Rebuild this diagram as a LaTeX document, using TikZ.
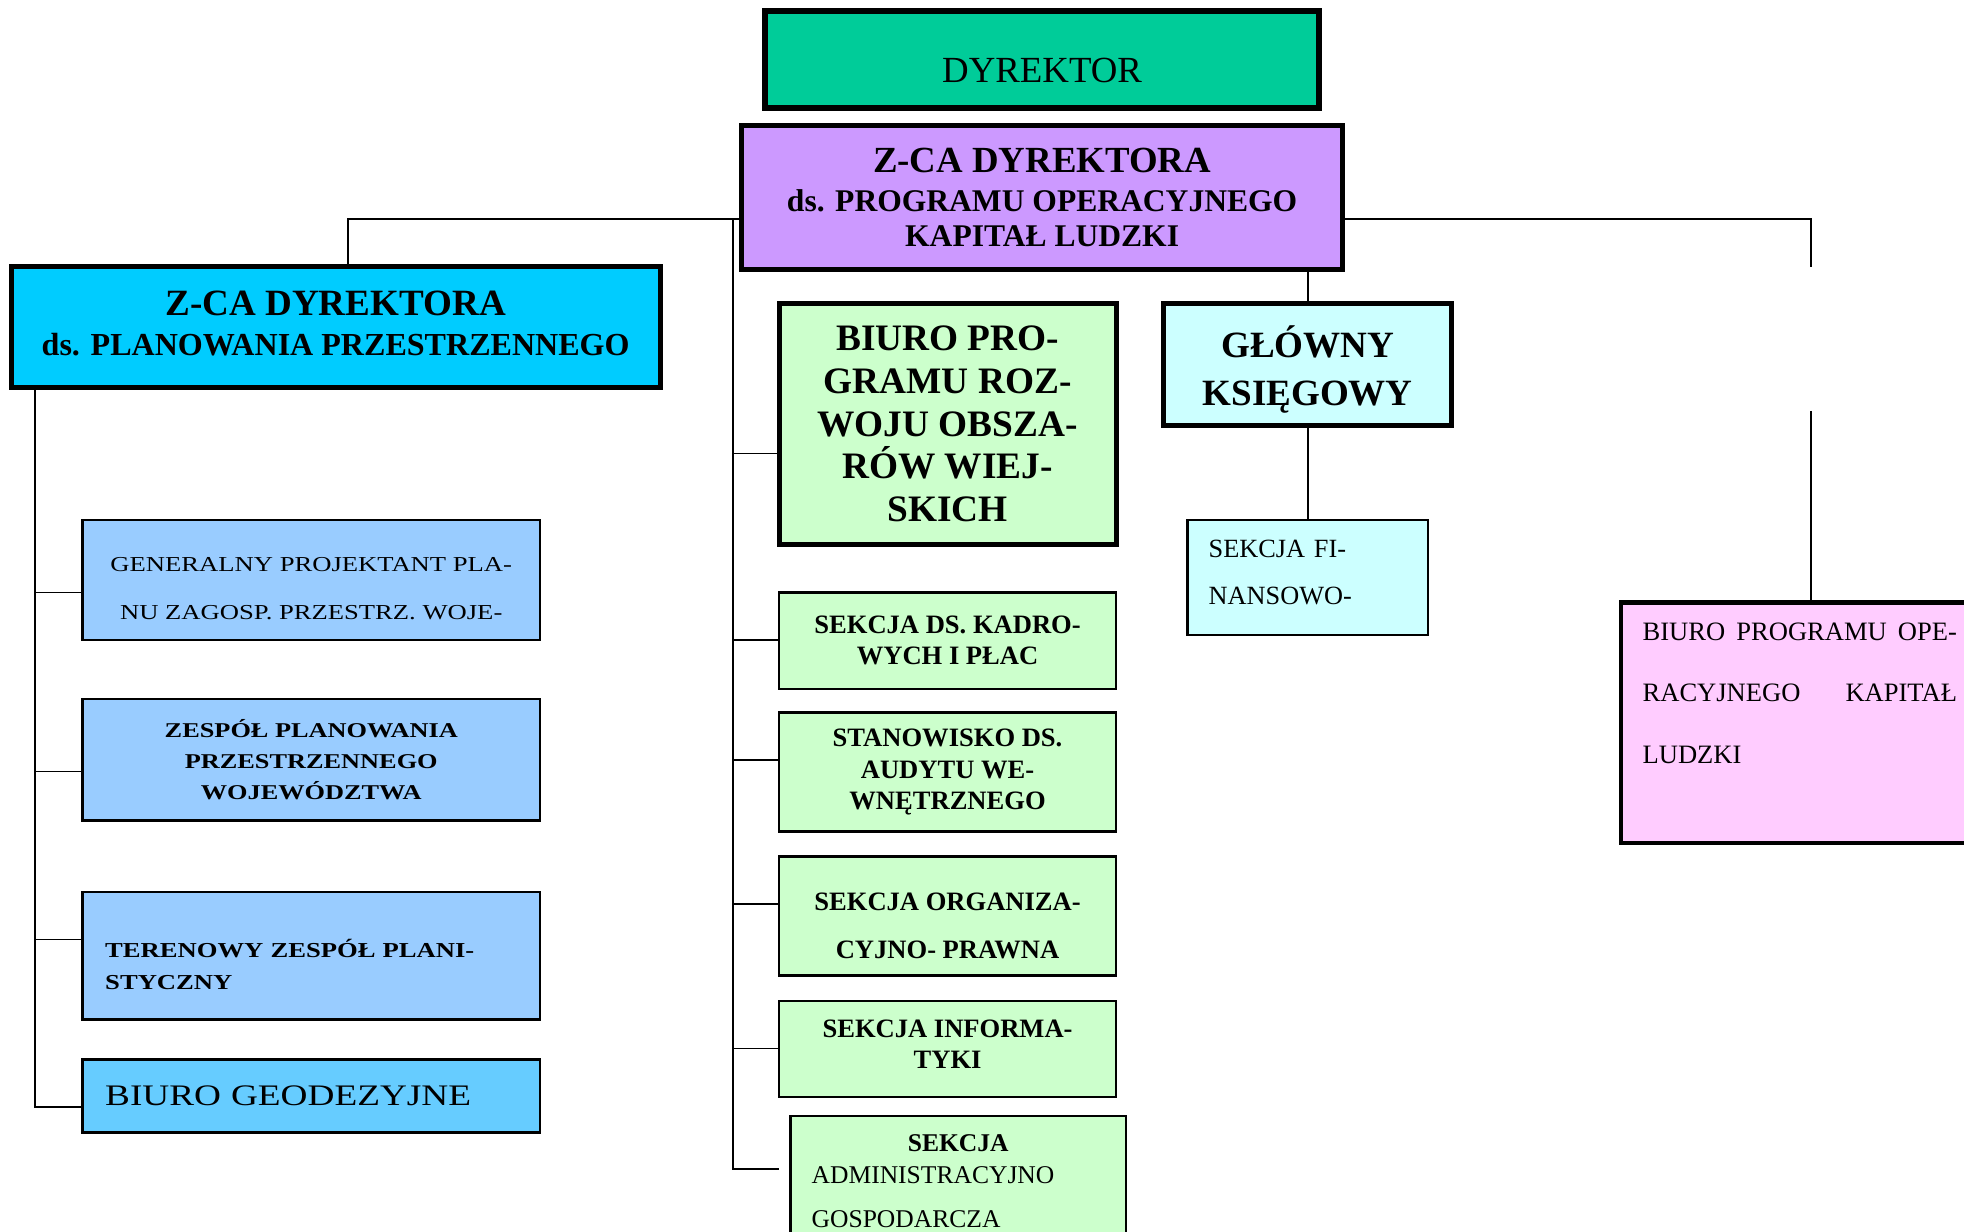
\documentclass[tikz,border=0pt]{standalone}
\usepackage{fontspec}
\setmainfont{Liberation Serif}
\newfontfamily\widefont[FakeStretch=1.25]{Liberation Serif}
\definecolor{cTeal}{HTML}{00CC99}
\definecolor{cPurple}{HTML}{CC99FF}
\definecolor{cCyan}{HTML}{00CCFF}
\definecolor{cGreen}{HTML}{CCFFCC}
\definecolor{cLCyan}{HTML}{CCFFFF}
\definecolor{cPink}{HTML}{FFCCFF}
\definecolor{cLBlue}{HTML}{99CCFF}
\definecolor{cGeo}{HTML}{66CCFF}
\begin{document}
\begin{tikzpicture}[x=0.5pt,y=-0.5pt,
  heavybox/.style={draw=black, rectangle, line width=2pt, inner sep=0pt, align=center},
  lightbox/.style={draw=black, rectangle, line width=1pt, inner sep=0pt, align=center},
  txt/.style={inner sep=0pt, align=center},
  conn/.style={draw=black, line width=0.7pt},
  secfont/.style={font=\fontsize{10.6}{12.5}\selectfont\bfseries}]
\useasboundingbox (0,0) rectangle (1568,983);

% top
\node[heavybox, line width=2.4pt, fill=cTeal, minimum width=221pt, minimum height=38.5pt,
  text height=18.5pt, text depth=0pt,
  font=\fontsize{14.7}{17}\selectfont] (dyr) at (832,47.5) {DYREKTOR};
\node[heavybox, fill=cPurple, minimum width=240pt, minimum height=57.5pt,
  font=\fontsize{12.6}{14}\selectfont\bfseries] (zcaP) at (832,157.5)
  {{\fontsize{14.7}{16}\selectfont Z-CA DYREKTORA}\\[1.5pt] ds. PROGRAMU OPERACYJNEGO\\ KAPITAŁ LUDZKI};

% left deputy
\node[heavybox, fill=cCyan, minimum width=259pt, minimum height=48pt] (zcaL) at (268,261) {};
\node[txt, font=\fontsize{12.8}{16}\selectfont\bfseries] (zcaLT) at ([yshift=1.5pt]zcaL.center)
  {{\fontsize{14.8}{16}\selectfont Z-CA DYREKTORA}\\ ds. PLANOWANIA PRZESTRZENNEGO};

% left column
\node[lightbox, fill=cLBlue, minimum width=182.5pt, minimum height=48pt] (gen) at (248.5,463) {};
\node[txt, font=\widefont\fontsize{8.5}{19}\selectfont] (genT) at ([yshift=-3.5pt]gen.center)
  {GENERALNY PROJEKTANT PLA-\\NU ZAGOSP. PRZESTRZ. WOJE-};
\node[lightbox, fill=cLBlue, minimum width=182.5pt, minimum height=48.5pt,
  font=\widefont\bfseries\fontsize{8.4}{12.25}\selectfont] (zesp) at (248.5,606.5)
  {ZESPÓŁ PLANOWANIA\\ PRZESTRZENNEGO\\ WOJEWÓDZTWA};
\node[lightbox, fill=cLBlue, minimum width=182.5pt, minimum height=51pt] (ter) at (248.5,763) {};
\node[txt, align=left, text width=164.5pt,
  font=\widefont\bfseries\fontsize{8.5}{13}\selectfont] (terT) at ([yshift=-3.5pt]ter.center)
  {TERENOWY ZESPÓŁ PLANI-\\STYCZNY};
\node[lightbox, fill=cGeo, minimum width=182.5pt, minimum height=29pt, align=left,
  inner xsep=9pt, text width=164.5pt,
  font=\widefont\fontsize{11.9}{14}\selectfont] (geo) at (248.5,875) {BIURO GEODEZYJNE};

% middle column
\node[heavybox, fill=cGreen, minimum width=134.5pt, minimum height=96.5pt,
  font=\fontsize{14.9}{17}\selectfont\bfseries] (biuro) at (756.5,338.5)
  {BIURO PRO-\\GRAMU ROZ-\\WOJU OBSZA-\\RÓW WIEJ-\\SKICH};
\node[lightbox, fill=cGreen, minimum width=134.5pt, minimum height=38.5pt, secfont] (kadro) at (756.5,511.5)
  {SEKCJA DS. KADRO-\\WYCH I PŁAC};
\node[lightbox, fill=cGreen, minimum width=134.5pt, minimum height=47.5pt, secfont] (stan) at (756.5,616.5)
  {STANOWISKO DS.\\AUDYTU WE-\\WNĘTRZNEGO};
\node[lightbox, fill=cGreen, minimum width=134.5pt, minimum height=47.5pt] (org) at (756.5,731.5) {};
\node[txt, font=\fontsize{10.6}{19}\selectfont\bfseries] (orgT) at ([yshift=-3.75pt]org.center)
  {SEKCJA ORGANIZA-\\CYJNO- PRAWNA};
\node[lightbox, fill=cGreen, minimum width=134.5pt, minimum height=38.5pt] (inf) at (756.5,837.5) {};
\node[txt, secfont] (infT) at ([yshift=2pt]inf.center) {SEKCJA INFORMA-\\TYKI};
\node[lightbox, fill=cGreen, minimum width=134pt, minimum height=52pt, align=left,
  inner xsep=8.5pt, text width=117pt,
  font=\fontsize{10.2}{12.5}\selectfont] (admin) at (765,943)
  {\hfill\textbf{SEKCJA}\hfill\null\\ADMINISTRACYJNO\\[5pt]GOSPODARCZA};

% accountant
\node[heavybox, fill=cLCyan, minimum width=115pt, minimum height=49pt] (gk) at (1044,291) {};
\node[txt, font=\fontsize{14.8}{19}\selectfont\bfseries] (gkT) at ([yshift=-2pt]gk.center) {GŁÓWNY\\KSIĘGOWY};
\node[lightbox, fill=cLCyan, minimum width=96pt, minimum height=46pt] (fi) at (1044,461) {};
\node[txt, align=left, text width=79pt,
  font=\fontsize{10.5}{18.5}\selectfont] (fiT) at ([yshift=2pt]fi.center) {SEKCJA FI-\\NANSOWO-};

% right
\node[heavybox, line width=1.7pt, fill=cPink, minimum width=142.5pt, minimum height=96pt] (pink) at (1436.5,577) {};
\node[anchor=north west, inner sep=0pt, text width=125.5pt, align=left,
  font=\fontsize{10.6}{24.5}\selectfont] (pinkT) at (1311,497)
  {BIURO\hfill PROGRAMU\hfill OPE-\\RACYJNEGO\hfill KAPITAŁ\\LUDZKI};

% connectors
\coordinate (jL) at (585,175);
\coordinate (jLL) at (278,175);
\coordinate (busEnd) at (585,933);
\coordinate (adminIn) at (622,933);
\draw[conn] (zcaP.west |- jL) -- (jLL) -- (jLL |- zcaL.north);
\draw[conn] (jL) -- (busEnd) -- (adminIn);
\foreach \n/\y in {biuro/362, kadro/511, stan/607, org/722, inf/837}
  \draw[conn] (585,\y) -- (\n.west |- 585,\y);

\coordinate (lBot) at (28,884);
\draw[conn] (zcaL.south -| lBot) -- (lBot) -- (geo.west |- lBot);
\foreach \n/\y in {gen/473, zesp/616, ter/750}
  \draw[conn] (28,\y) -- (\n.west |- 28,\y);

\coordinate (rTop) at (1446,213);
\coordinate (rMid) at (1446,328);
\draw[conn] (zcaP.east |- jL) -- (rTop |- jL) -- (rTop);
\draw[conn] (rMid) -- (rMid |- pink.north);

\draw[conn] (zcaP.south -| gk.north) -- (gk.north);
\draw[conn] (gk.south) -- (fi.north);
\end{tikzpicture}
\end{document}
